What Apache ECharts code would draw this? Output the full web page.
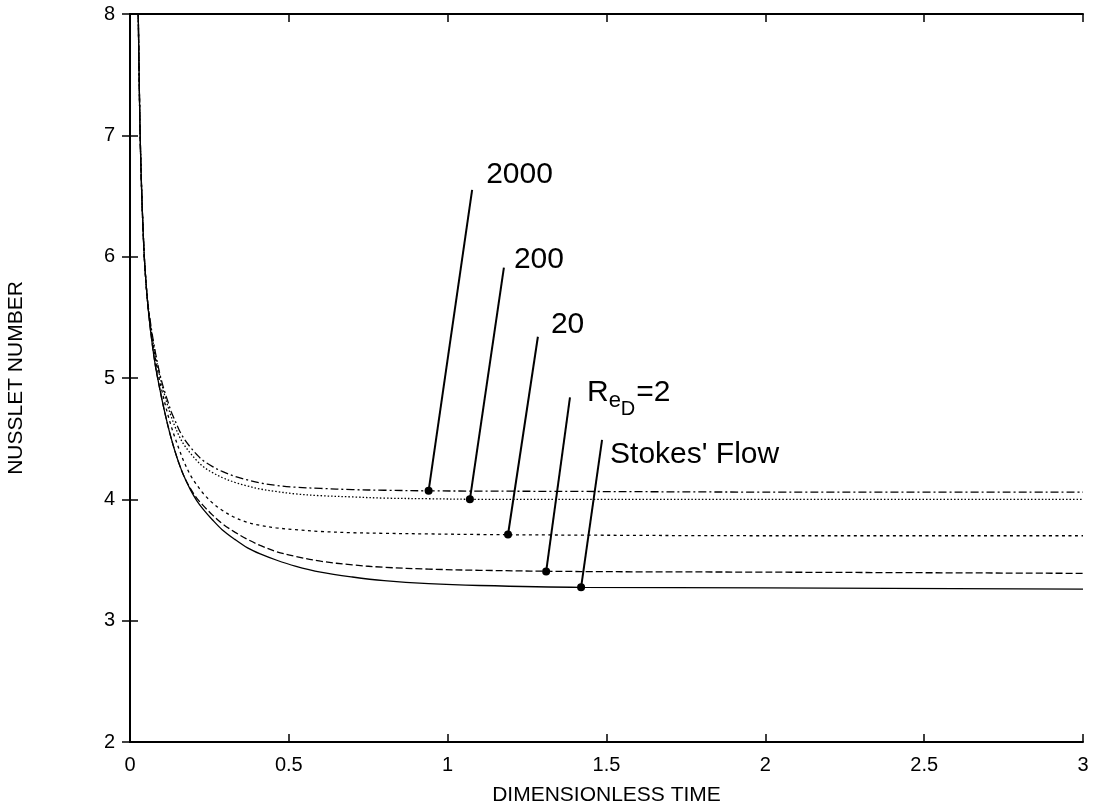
<!DOCTYPE html>
<html>
<head>
<meta charset="utf-8">
<script src="https://cdn.jsdelivr.net/npm/echarts@6/dist/echarts.min.js"></script>
<style>
  html, body { margin: 0; padding: 0; background: #fff; }
  #chart { width: 1094px; height: 802px; }
</style>
</head>
<body>
<div id="chart"></div>
<script>
const timeSteep = [0.026, 0.029, 0.032, 0.036, 0.04, 0.045, 0.05, 0.055];
const nuSteep = [8.0, 7.45, 7.0, 6.6, 6.3, 6.0, 5.8, 5.64];
const timeBody = [0.06, 0.07, 0.08, 0.09, 0.1, 0.11, 0.12, 0.13, 0.14, 0.155, 0.17, 0.19, 0.21, 0.23,
  0.26, 0.29, 0.33, 0.37, 0.41, 0.46, 0.52, 0.6, 0.7, 0.8, 0.94, 1.1, 1.42, 2.0, 3.0];

// Nusselt number for each case, one value per timeBody entry
const nuStokes = [5.5, 5.28, 5.1, 4.96, 4.83, 4.71, 4.6, 4.5, 4.41, 4.29, 4.19, 4.08, 3.99, 3.92,
  3.83, 3.75, 3.67, 3.60, 3.55, 3.50, 3.45, 3.40, 3.36, 3.33, 3.305, 3.29, 3.275, 3.27, 3.26];
const nuRe2 = [5.5, 5.28, 5.1, 4.96, 4.83, 4.71, 4.6, 4.5, 4.41, 4.29, 4.19, 4.09, 4.01, 3.95,
  3.87, 3.80, 3.73, 3.67, 3.62, 3.57, 3.53, 3.49, 3.46, 3.44, 3.425, 3.415, 3.405, 3.40, 3.39];
const nuRe20 = [5.52, 5.32, 5.16, 5.02, 4.9, 4.79, 4.69, 4.6, 4.52, 4.41, 4.31, 4.2, 4.12, 4.05,
  3.97, 3.91, 3.85, 3.81, 3.785, 3.765, 3.75, 3.735, 3.725, 3.72, 3.715, 3.71, 3.705, 3.70, 3.70];
const nuRe200 = [5.53, 5.34, 5.19, 5.06, 4.95, 4.85, 4.76, 4.68, 4.61, 4.52, 4.45, 4.38, 4.32, 4.27,
  4.22, 4.18, 4.14, 4.11, 4.085, 4.065, 4.045, 4.03, 4.02, 4.01, 4.005, 4.0, 4.0, 4.0, 4.0];
const nuRe2000 = [5.54, 5.36, 5.21, 5.08, 4.97, 4.88, 4.8, 4.72, 4.66, 4.57, 4.5, 4.43, 4.37, 4.32,
  4.27, 4.23, 4.19, 4.16, 4.135, 4.115, 4.1, 4.09, 4.08, 4.075, 4.07, 4.068, 4.065, 4.06, 4.06];

// callouts: text, dot on the curve, top end of the leader (data units)
const calloutTexts = ['2000', '200', '20', 'Re_D=2', "Stokes' Flow"];
const calloutDots = [[0.94, 4.07], [1.07, 4.0], [1.19, 3.71], [1.31, 3.405], [1.42, 3.275]];
const calloutTops = [[1.077, 6.55], [1.177, 5.91], [1.284, 5.34], [1.385, 4.84], [1.486, 4.49]];

const xTicks = [0, 0.5, 1, 1.5, 2, 2.5, 3];
const yTicks = [2, 3, 4, 5, 6, 7, 8];

const FONT = 'Liberation Sans';
const chart = echarts.init(document.getElementById('chart'), null, { renderer: 'canvas' });

function curve(values) {
  const pts = timeSteep.map((t, i) => [t, nuSteep[i]]);
  return pts.concat(timeBody.map((t, i) => [t, values[i]]));
}

const curveStyles = [
  { values: nuStokes, type: 'solid' },
  { values: nuRe2, type: [7, 3] },
  { values: nuRe20, type: [3, 3.5] },
  { values: nuRe200, type: [1.5, 2] },
  { values: nuRe2000, type: [8, 3, 2, 3] }
];

const curveSeries = curveStyles.map(c => ({
  type: 'line',
  data: curve(c.values),
  showSymbol: false,
  smooth: 0.35,
  silent: true,
  lineStyle: { color: '#000', width: 1.3, type: c.type }
}));

const labelOffsets = [[14, -15], [10, -8], [13, -12], [17, -5], [8, 15]];

const calloutSeries = calloutTexts.map((t, i) => ({
  type: 'line',
  data: [calloutDots[i], calloutTops[i]],
  symbol: 'circle',
  symbolSize: (v, p) => (p.dataIndex === 0 ? 8 : 0),
  showSymbol: true,
  silent: true,
  itemStyle: { color: '#000' },
  lineStyle: { color: '#000', width: 2 },
  label: {
    show: true,
    position: 'right',
    distance: 0,
    offset: labelOffsets[i],
    formatter: p => (p.dataIndex === 1 ? (t === 'Re_D=2' ? '{r|R}{e|e}{d|D}{r|=2}' : t) : ''),
    fontFamily: FONT,
    fontSize: 30,
    color: '#000',
    rich: {
      r: { fontFamily: FONT, fontSize: 30, lineHeight: 30, verticalAlign: 'top', color: '#000' },
      e: { fontFamily: FONT, fontSize: 22, lineHeight: 22, verticalAlign: 'top', padding: [13, 0, 0, 0], color: '#000' },
      d: { fontFamily: FONT, fontSize: 20, lineHeight: 20, verticalAlign: 'top', padding: [22, 1, 0, 0], color: '#000' }
    }
  }
}));

const axisLine = { show: true, lineStyle: { color: '#000', width: 2 } };
const axisTick = { show: true, inside: true, length: 8, lineStyle: { color: '#000', width: 1.5 } };

chart.setOption({
  animation: false,
  backgroundColor: '#fff',
  grid: { left: 130, right: 11, top: 14, bottom: 60, outerBoundsMode: 'none', containLabel: false },
  xAxis: [
    {
      type: 'value', min: xTicks[0], max: xTicks[xTicks.length - 1], interval: 0.5,
      position: 'bottom',
      name: 'DIMENSIONLESS TIME', nameLocation: 'middle', nameGap: 43,
      nameTextStyle: { fontFamily: FONT, fontSize: 21, color: '#000' },
      axisLine, axisTick,
      axisLabel: { fontFamily: FONT, fontSize: 20, color: '#000', margin: 13 },
      splitLine: { show: false }
    },
    {
      type: 'value', min: xTicks[0], max: xTicks[xTicks.length - 1], interval: 0.5,
      position: 'top', axisLine, axisTick,
      axisLabel: { show: false }, splitLine: { show: false }
    }
  ],
  yAxis: [
    {
      type: 'value', min: yTicks[0], max: yTicks[yTicks.length - 1], interval: 1,
      position: 'left',
      name: 'NUSSLET NUMBER', nameLocation: 'middle', nameGap: 103,
      nameTextStyle: { fontFamily: FONT, fontSize: 21, color: '#000' },
      axisLine, axisTick,
      axisLabel: { fontFamily: FONT, fontSize: 20, color: '#000', margin: 15 },
      splitLine: { show: false }
    },
    {
      type: 'value', min: yTicks[0], max: yTicks[yTicks.length - 1], interval: 1,
      position: 'right', axisLine, axisTick,
      axisLabel: { show: false }, splitLine: { show: false }
    }
  ],
  series: curveSeries.concat(calloutSeries)
});
</script>
</body>
</html>
